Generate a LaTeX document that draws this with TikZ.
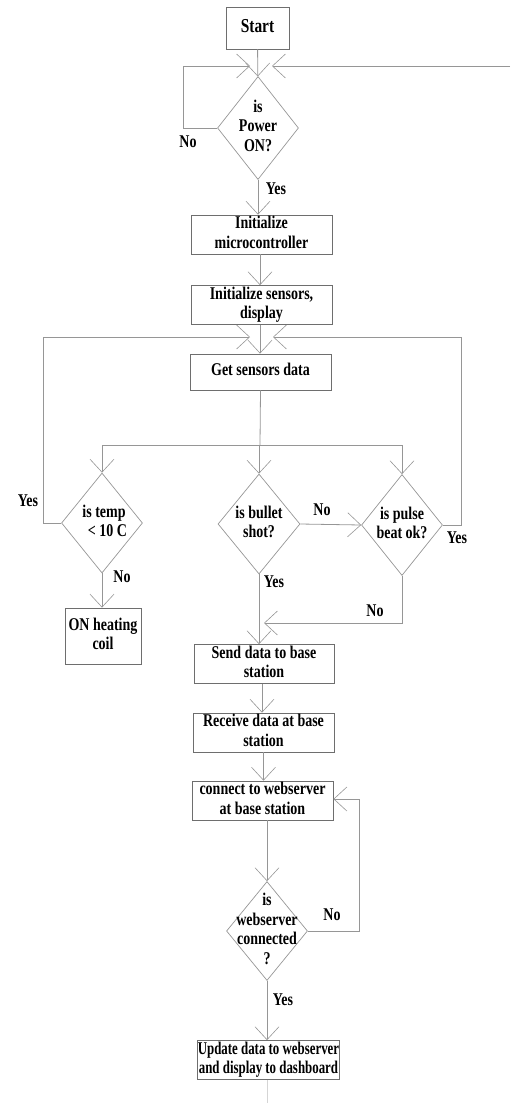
\documentclass[tikz,border=0pt]{standalone}
\usepackage{fontspec}
\setmainfont{Liberation Serif}
\usepackage{graphicx}
\usetikzlibrary{shapes.geometric,arrows.meta}
\definecolor{boxc}{RGB}{110,110,110}
\definecolor{linec}{RGB}{150,150,150}
\newcommand{\tx}[1]{\scalebox{1}[1.28]{\begin{tabular}{@{}c@{}}#1\end{tabular}}}
\tikzset{
  txt/.style={font=\bfseries\fontsize{14}{15.2}\selectfont},
  box/.style={draw=boxc, line width=0.8pt, minimum width=141pt, minimum height=35pt, inner sep=0pt, txt},
  dec/.style={diamond, draw=linec, line width=0.7pt, minimum width=81pt, minimum height=100pt, inner sep=0pt},
  conn/.style={draw=linec, line width=0.8pt},
  arr/.style={conn, -{Straight Barb[length=13pt,width=24pt,line width=0.6pt]}},
  lbl/.style={txt, inner sep=0pt}
}
\begin{document}
\begin{tikzpicture}[x=1pt,y=-1pt]
\useasboundingbox (0,0) rectangle (511,1103);
% nodes
\node[box, minimum width=63pt, minimum height=42pt] (start) at (257.5,28) {\scalebox{1.1}{\tx{Start}}};
\node[dec, minimum height=103pt] (power) at (258,128) {};
\node[lbl] at (power.center) {\tx{is\\Power\\ON?}};
\node[box] (init1) at (261.5,234.5) {\tx{Initialize\\microcontroller}};
\node[box, minimum height=36pt] (init2) at (261.5,305) {\tx{Initialize sensors,\\display}};
\node[box, minimum height=36pt] (get) at (260.5,372) {\tx{Get sensors data}};
\node[dec] (temp) at (102,523) {};
\node[lbl] at ([xshift=2pt]temp.center) {\tx{is temp\\\ \ \textless\ 10 C}};
\node[dec, minimum width=82pt] (bullet) at (259,524) {};
\node[lbl] at (bullet.center) {\tx{is bullet\\shot?}};
\node[dec, minimum height=101pt] (pulse) at (402,525) {};
\node[lbl] at (pulse.center) {\tx{is pulse\\beat ok?}};
\node[box, minimum width=76pt, minimum height=56pt] (heat) at (103,636) {\tx{ON heating\\coil}};
\node[box, minimum width=140pt, minimum height=34pt] (send) at (264,664) {\tx{Send data to base\\station}};
\node[box] (recv) at (263.5,732.5) {\tx{Receive data at base\\station}};
\node[box] (cws) at (262.5,800.5) {\tx{connect to webserver\\at base station}};
\node[dec, minimum height=99pt] (web) at (267,931) {};
\node[lbl] at (web.center) {\tx{is\\webserver\\connected\\?}};
\node[box, minimum height=34pt] (upd) at (268.5,1060) {\scalebox{0.92}[1]{\tx{Update data to webserver\\and display to dashboard}}};
% coordinates
\coordinate (pa) at (250,66);
\coordinate (pb) at (272,66);
\coordinate (re) at (510,66);
\coordinate (br) at (260,445);
\coordinate (ga) at (250,337);
\coordinate (gb) at (273,337);
\coordinate (sj) at (264,623);
\coordinate (bot) at (267,1103);
% connectors
\draw[arr] (start) -- (power);
\draw[arr] (power.west) -- (183,128) -- (183,66) -- (pa);
\draw[arr] (re) -- (pb);
\draw[arr] (power.south) -- (power.south |- init1.north);
\draw[arr] ([xshift=-1.5pt]init1.south) -- ([xshift=-1.5pt]init2.north);
\draw[arr] ([xshift=-1.5pt]init2.south) -- ([xshift=-0.5pt]get.north);
\draw[conn] (get.south) -- (br);
\draw[conn] (temp.north |- br) -- (pulse.north |- br);
\draw[arr] (temp.north |- br) -- (temp.north);
\draw[arr] (bullet.north |- br) -- (bullet.north);
\draw[arr] (pulse.north |- br) -- (pulse.north);
\draw[arr] (temp.west) -- (43,523) -- (43,337) -- (ga);
\draw[arr] (pulse.east) -- (461,525) -- (461,337) -- (gb);
\draw[arr] (bullet.east) -- (pulse.west);
\draw[arr] (bullet.south) -- (bullet.south |- send.north);
\draw[arr] (pulse.south) -- (402,623) -- (sj);
\draw[arr] (temp.south) -- (temp.south |- heat.north);
\draw[arr] ([xshift=-2pt]send.south) -- ([xshift=-1.5pt]recv.north);
\draw[arr] (recv.south) -- (recv.south |- cws.north);
\draw[arr] (web.north |- cws.south) -- (web.north);
\draw[arr] (web.east) -- (359,931) -- (359,799) -- (cws.east |- 0,799);
\draw[arr] (web.south) -- (web.south |- upd.north);
\draw[conn, draw=linec!40] (web.south |- upd.south) -- (bot);
% labels
\node[lbl] (l1) at (188,144) {\tx{No}};
\node[lbl] (l2) at (276,191) {\tx{Yes}};
\node[lbl] (l3) at (28,503) {\tx{Yes}};
\node[lbl] (l4) at (122,579) {\tx{No}};
\node[lbl] (l5) at (322,512) {\tx{No}};
\node[lbl] (l6) at (457,540) {\tx{Yes}};
\node[lbl] (l7) at (375,613) {\tx{No}};
\node[lbl] (l8) at (274,584) {\tx{Yes}};
\node[lbl] (l9) at (332,917) {\tx{No}};
\node[lbl] (l10) at (283,1002) {\tx{Yes}};
\end{tikzpicture}
\end{document}
